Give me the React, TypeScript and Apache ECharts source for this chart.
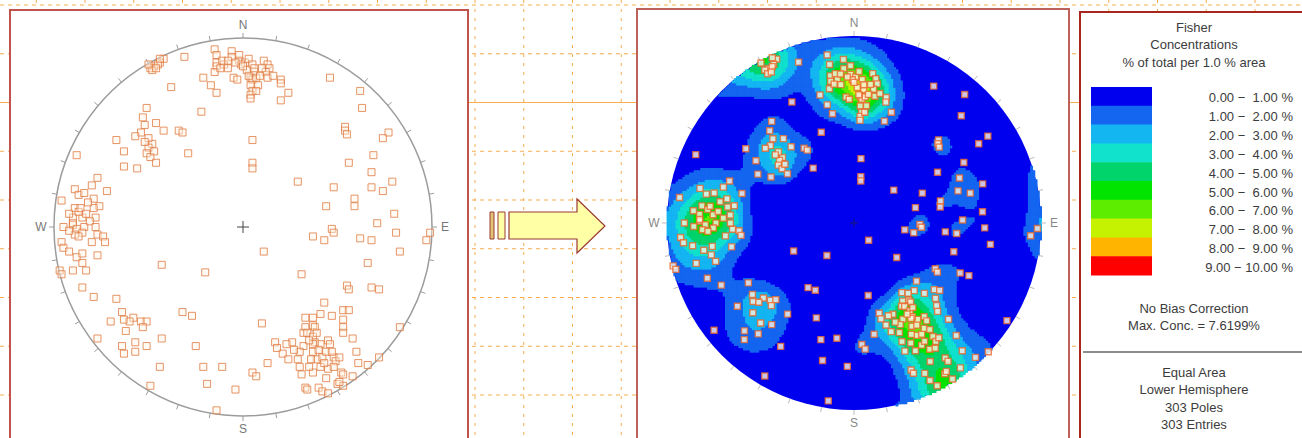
import React, { useEffect, useRef } from "react";
import * as echarts from "echarts";

// Pole positions read from the left (equal-area) net: [east, north], primitive radius = 1
const POLES_NNW: number[][] = [[-0.42,0.89],[-0.44,0.87],[-0.47,0.85],[-0.49,0.84],[-0.48,0.83],[-0.50,0.86],[-0.31,0.90],[-0.38,0.74],[-0.45,0.86],[-0.46,0.84],[-0.44,0.89]];
const POLES_N: number[][] = [[-0.15,0.94],[-0.14,0.91],[-0.14,0.87],[-0.14,0.85],[-0.15,0.82],[-0.10,0.86],[-0.08,0.84],[-0.06,0.93],[-0.06,0.90],[-0.02,0.91],[-0.02,0.88],[0.01,0.87],[-0.01,0.86],[0.03,0.89],[0.05,0.86],[0.06,0.82],[0.04,0.79],[0.05,0.78],[0.04,0.75],[0.05,0.72],[0.04,0.70],[0.04,0.68],[0.07,0.79],[0.08,0.75],[0.11,0.88],[0.13,0.86],[0.14,0.84],[0.12,0.82],[0.13,0.79],[0.20,0.78],[0.20,0.76],[0.20,0.67],[0.24,0.71],[-0.21,0.79],[-0.17,0.75],[-0.14,0.71],[-0.05,0.79],[-0.03,0.78],[0.02,0.83],[-0.04,0.87],[-0.11,0.88],[0.09,0.80],[0.00,0.85],[0.06,0.84],[-0.12,0.84],[0.10,0.84],[0.03,0.80],[-0.08,0.88],[0.16,0.80],[0.07,0.72]];
const POLES_CENTRAL: number[][] = [[-0.22,0.61],[-0.34,0.51],[-0.32,0.50],[0.05,0.46],[0.05,0.34],[0.05,0.31],[-0.29,0.39],[0.29,0.24]];
const POLES_NW: number[][] = [[-0.51,0.63],[-0.53,0.58],[-0.52,0.54],[-0.46,0.55],[-0.42,0.51],[-0.54,0.50],[-0.57,0.48],[-0.67,0.46],[-0.48,0.44],[-0.50,0.42],[-0.51,0.39],[-0.49,0.37],[-0.46,0.34],[-0.63,0.40],[-0.88,0.38],[-0.63,0.32],[-0.56,0.31],[-0.50,0.47],[-0.47,0.40],[-0.52,0.45]];
const POLES_W: number[][] = [[-0.77,0.26],[-0.80,0.22],[-0.72,0.19],[-0.89,0.20],[-0.87,0.17],[-0.96,0.14],[-0.79,0.15],[-0.76,0.11],[-0.89,0.10],[-0.79,0.10],[-0.85,0.05],[-0.90,0.05],[-0.78,0.05],[-0.95,0.00],[-0.90,0.01],[-0.84,0.00],[-0.90,0.02],[-0.88,-0.01],[-0.85,-0.03],[-0.89,-0.04],[-0.81,0.03],[-0.77,-0.04],[-0.74,-0.05],[-0.73,-0.08],[-0.96,-0.08],[-0.95,-0.11],[-0.92,-0.13],[-0.88,-0.16],[-0.85,-0.14],[-0.77,-0.15],[-0.97,-0.23],[-0.96,-0.25],[-0.90,-0.23],[-0.83,-0.23],[-0.85,-0.19],[-0.87,0.08],[-0.82,0.13],[-0.86,0.10],[-0.83,0.07],[-0.92,0.07],[-0.87,-0.05],[-0.80,-0.08],[-0.92,-0.02],[-0.84,0.18],[-0.78,0.00]];
const POLES_SW: number[][] = [[-0.85,-0.32],[-0.79,-0.37],[-0.67,-0.38],[-0.70,-0.50],[-0.64,-0.45],[-0.63,-0.49],[-0.58,-0.48],[-0.54,-0.50],[-0.51,-0.50],[-0.53,-0.53],[-0.77,-0.59],[-0.64,-0.63],[-0.63,-0.67],[-0.57,-0.61],[-0.57,-0.66],[-0.51,-0.63],[-0.43,-0.59],[-0.44,-0.74],[-0.49,-0.84],[-0.43,-0.20],[-0.20,-0.24],[-0.32,-0.45],[-0.27,-0.47],[-0.25,-0.63],[-0.21,-0.74],[-0.11,-0.74],[-0.19,-0.83],[-0.04,-0.86],[0.05,-0.77],[0.07,-0.79],[-0.14,-0.97],[0.11,-0.13],[0.10,-0.51],[0.13,-0.72],[-0.60,-0.50],[-0.62,-0.55]];
const POLES_E: number[][] = [[0.31,-0.25],[0.37,-0.05],[0.43,-0.07],[0.47,-0.01],[0.48,-0.03],[0.62,-0.06],[0.68,-0.07],[0.71,0.02],[0.81,-0.03],[0.83,-0.13],[0.66,-0.19],[0.97,-0.07],[0.99,-0.03],[0.55,-0.31],[0.56,-0.33],[0.68,-0.32],[0.72,-0.33],[0.43,-0.40],[0.41,-0.46],[0.47,-0.47],[0.53,-0.44],[0.56,-0.44],[0.53,-0.49],[0.53,-0.53],[0.53,-0.56],[0.58,-0.59],[0.60,-0.66],[0.61,-0.72],[0.66,-0.73],[0.72,-0.69],[0.83,-0.53]];
const POLES_SE: number[][] = [[0.33,-0.48],[0.37,-0.48],[0.33,-0.53],[0.37,-0.52],[0.38,-0.53],[0.32,-0.56],[0.34,-0.56],[0.37,-0.58],[0.45,-0.60],[0.46,-0.62],[0.41,-0.62],[0.38,-0.61],[0.37,-0.62],[0.32,-0.63],[0.26,-0.61],[0.23,-0.62],[0.17,-0.61],[0.18,-0.64],[0.21,-0.67],[0.24,-0.70],[0.29,-0.70],[0.30,-0.74],[0.31,-0.78],[0.37,-0.66],[0.39,-0.70],[0.42,-0.69],[0.44,-0.66],[0.48,-0.69],[0.49,-0.71],[0.45,-0.75],[0.41,-0.74],[0.37,-0.77],[0.48,-0.74],[0.51,-0.69],[0.52,-0.77],[0.53,-0.78],[0.50,-0.83],[0.53,-0.84],[0.58,-0.79],[0.33,-0.85],[0.34,-0.86],[0.40,-0.85],[0.42,-0.87],[0.45,-0.88],[0.51,-0.82],[0.35,-0.60],[0.40,-0.65],[0.43,-0.72],[0.36,-0.70],[0.44,-0.80],[0.30,-0.66],[0.47,-0.66],[0.39,-0.56],[0.27,-0.65],[0.35,-0.74]];
const POLES_NE: number[][] = [[0.46,0.79],[0.62,0.72],[0.63,0.63],[0.54,0.53],[0.54,0.51],[0.55,0.49],[0.77,0.50],[0.74,0.47],[0.69,0.38],[0.56,0.34],[0.68,0.29],[0.79,0.24],[0.68,0.21],[0.74,0.19],[0.48,0.21],[0.44,0.11],[0.59,0.15],[0.59,0.11],[0.80,0.07]];

const BAND_LABELS = ["0.00 \u2212  1.00 %","1.00 \u2212  2.00 %","2.00 \u2212  3.00 %","3.00 \u2212  4.00 %","4.00 \u2212  5.00 %","5.00 \u2212  6.00 %","6.00 \u2212  7.00 %","7.00 \u2212  8.00 %","8.00 \u2212  9.00 %","9.00 \u2212 10.00 %"];
const BAND_COLORS = ["#0000ee","#1466f0","#14b6f2","#10e2cc","#00d46a","#00e400","#5ced00","#c4f200","#ffb400","#ff0000"];
const TITLE_LINES = ["Fisher", "Concentrations", "% of total per 1.0 % area"];
const MAX_CONC = 7.6199;
const NOTE_LINES = ["No Bias Correction", `Max. Conc. = ${MAX_CONC}%`];
const INFO_LINES = ["Equal Area", "Lower Hemisphere", "303 Poles", "303 Entries"];
const DIRECTIONS = [{ label: "N", az: 0 }, { label: "E", az: 90 }, { label: "S", az: 180 }, { label: "W", az: 270 }];

const KAPPA = 90;
const CELL = 0.012;
const FONT = 'Arial, "Liberation Sans", sans-serif';

const POLES: number[][] = [...POLES_NNW, ...POLES_N, ...POLES_CENTRAL, ...POLES_NW, ...POLES_W, ...POLES_SW, ...POLES_E, ...POLES_SE, ...POLES_NE];

function equalAreaToVec(p: number[]): number[] {
  const r = Math.hypot(p[0], p[1]);
  const th = 2 * Math.asin(Math.min(1, r / Math.SQRT2));
  const s = r > 0 ? Math.sin(th) / r : 0;
  return [p[0] * s, p[1] * s, Math.cos(th)];
}
function vecToEqualAngle(v: number[]): number[] {
  const th = Math.acos(Math.min(1, Math.abs(v[2])));
  const h = Math.hypot(v[0], v[1]);
  const r = Math.tan(th / 2);
  return h > 0 ? [(v[0] / h) * r, (v[1] / h) * r] : [0, 0];
}
const POLE_VECS = POLES.map(equalAreaToVec);
const RIGHT_POINTS = POLE_VECS.map(vecToEqualAngle);

function concentration(d: number[]): number {
  let s = 0;
  for (const p of POLE_VECS) {
    const c = Math.abs(d[0] * p[0] + d[1] * p[1] + d[2] * p[2]);
    s += Math.exp(KAPPA * (c - 1));
  }
  return (KAPPA / POLES.length) * s;
}
function buildCells(): number[][] {
  const raw: number[][] = [];
  const n = Math.ceil(1 / CELL);
  let max = 0;
  for (let i = -n; i <= n; i++) {
    for (let j = -n; j <= n; j++) {
      const u = i * CELL, v = j * CELL;
      const r = Math.hypot(u, v);
      if (r > 1) continue;
      const th = 2 * Math.atan(r);
      const s = r > 0 ? Math.sin(th) / r : 0;
      const val = concentration([u * s, v * s, Math.cos(th)]);
      if (val > max) max = val;
      raw.push([u, v, val]);
    }
  }
  // calibrate to the reported maximum concentration
  const k = MAX_CONC / max;
  const cells: number[][] = [];
  for (const c of raw) {
    const band = Math.min(9, Math.floor(c[2] * k));
    if (band >= 1) cells.push([c[0], c[1], band]);
  }
  return cells;
}

function netSeries(idx: number, o: any) {
  return {
    type: "custom", xAxisIndex: idx, yAxisIndex: idx, z: o.z, silent: true, data: [[0, 0]],
    renderItem: (_p: any, api: any) => {
      const c = api.coord([0, 0]);
      const r = api.size([1, 1])[0];
      const ch: any[] = [];
      if (o.disc) {
        ch.push({ type: "circle", shape: { cx: c[0], cy: c[1], r }, style: { fill: o.disc } });
        return { type: "group", children: ch };
      }
      if (o.outline) ch.push({ type: "circle", shape: { cx: c[0], cy: c[1], r }, style: { fill: "none", stroke: o.outline, lineWidth: 1.5 } });
      for (let a = 0; a < 360; a += 10) {
        const t = (a * Math.PI) / 180;
        const sx = Math.sin(t), sy = -Math.cos(t);
        ch.push({ type: "line", shape: { x1: c[0] + sx * r, y1: c[1] + sy * r, x2: c[0] + sx * (r + 5), y2: c[1] + sy * (r + 5) }, style: { stroke: o.tick, lineWidth: 1 } });
      }
      for (const d of DIRECTIONS) {
        const t = (d.az * Math.PI) / 180;
        const off = r + 13;
        ch.push({ type: "text", style: { x: c[0] + Math.sin(t) * off, y: c[1] - Math.cos(t) * off, text: d.label, fill: o.label, font: `12px ${FONT}`, align: "center", verticalAlign: "middle", textAlign: "center", textVerticalAlign: "middle" } });
      }
      const k = o.cross;
      ch.push({ type: "line", shape: { x1: c[0] - k, y1: c[1], x2: c[0] + k, y2: c[1] }, style: { stroke: o.crossColor, lineWidth: 1 } });
      ch.push({ type: "line", shape: { x1: c[0], y1: c[1] - k, x2: c[0], y2: c[1] + k }, style: { stroke: o.crossColor, lineWidth: 1 } });
      return { type: "group", children: ch };
    },
  };
}

function buildGraphics(): any[] {
  const g: any[] = [];
  for (let k = -9; k <= 17; k++) {
    const x = 475 + 48.75 * k;
    g.push({ type: "line", silent: true, shape: { x1: x, y1: 0, x2: x, y2: 438 }, style: { stroke: "#f8ad4e", lineWidth: 1, lineDash: [3, 6] } });
  }
  for (let k = 0; k <= 8; k++) {
    const y = 5 + 48.75 * k;
    g.push({ type: "line", silent: true, shape: { x1: 0, y1: y, x2: 1302, y2: y }, style: { stroke: "#f8ad4e", lineWidth: 1, lineDash: k === 2 ? null : [4, 4] } });
  }
  g.push({ type: "rect", silent: true, shape: { x: 10, y: 10, width: 458, height: 440 }, style: { fill: "#ffffff", stroke: "#c0544c", lineWidth: 2 } });
  g.push({ type: "rect", silent: true, shape: { x: 637, y: 9, width: 432, height: 440 }, style: { fill: "#ffffff", stroke: "#bd625a", lineWidth: 2 } });
  g.push({ type: "rect", silent: true, shape: { x: 1080, y: 12, width: 240, height: 440 }, style: { fill: "#ffffff", stroke: "#a8261e", lineWidth: 2 } });
  // arrow
  g.push({ type: "rect", silent: true, shape: { x: 490, y: 212, width: 4, height: 27 }, style: { fill: "#e2c275", stroke: "#9b3a32", lineWidth: 1 } });
  g.push({ type: "rect", silent: true, shape: { x: 498, y: 212, width: 7, height: 27 }, style: { fill: "#ffffa6", stroke: "#9b3a32", lineWidth: 1 } });
  g.push({ type: "polygon", silent: true, shape: { points: [[509, 212], [577, 212], [577, 199], [605, 226], [577, 253], [577, 239], [509, 239]] }, style: { fill: "#ffffa6", stroke: "#9b3a32", lineWidth: 1.2 } });
  // legend
  const cx = 1194;
  const txt = (text: string, x: number, y: number, align = "center") => ({ type: "text", silent: true, style: { x, y, text, fill: "#3c3c3c", font: `13px ${FONT}`, align, verticalAlign: "middle", textAlign: align, textVerticalAlign: "middle" } });
  TITLE_LINES.forEach((t, i) => g.push(txt(t, cx, 27 + i * 17.5)));
  const bh = 18.8;
  BAND_COLORS.forEach((col, i) => {
    g.push({ type: "rect", silent: true, shape: { x: 1091, y: 87 + i * bh, width: 61, height: bh + 0.5 }, style: { fill: col } });
    g.push(txt(BAND_LABELS[i], 1293, 97.5 + i * 18.9, "right"));
  });
  NOTE_LINES.forEach((t, i) => g.push(txt(t, cx, 308 + i * 17)));
  g.push({ type: "line", silent: true, shape: { x1: 1083, y1: 352, x2: 1302, y2: 352 }, style: { stroke: "#8c8c8c", lineWidth: 2 } });
  INFO_LINES.forEach((t, i) => g.push(txt(t, cx, 372 + i * 17.5)));
  return g;
}

export default function App() {
  const ref = useRef<HTMLDivElement>(null);
  useEffect(() => {
    if (!ref.current) return;
    const chart = echarts.init(ref.current, null, { renderer: "svg" });
    const cells = buildCells();
    const axis = (gi: number) => ({ type: "value", gridIndex: gi, min: -1, max: 1, show: false });
    chart.setOption({
      animation: false,
      backgroundColor: "#ffffff",
      graphic: { elements: buildGraphics() },
      grid: [
        { left: 54, top: 38, width: 378, height: 378 },
        { left: 667, top: 36, width: 374, height: 374 },
      ],
      xAxis: [axis(0), axis(1)],
      yAxis: [axis(0), axis(1)],
      series: [
        netSeries(0, { z: 2, outline: "#9c9c9c", tick: "#9c9c9c", label: "#777777", cross: 6, crossColor: "#444444" }),
        {
          type: "scatter", xAxisIndex: 0, yAxisIndex: 0, z: 3, silent: true, data: POLES,
          symbol: "rect", symbolSize: 7,
          itemStyle: { color: "rgba(255,244,228,0.5)", borderColor: "#e07a42", borderWidth: 1 },
        },
        netSeries(1, { z: 1, disc: "#0000ee" }),
        {
          type: "custom", xAxisIndex: 1, yAxisIndex: 1, z: 1, silent: true, data: cells,
          renderItem: (_p: any, api: any) => {
            const u = api.value(0), v = api.value(1), b = api.value(2);
            const p = api.coord([u - CELL / 2, v + CELL / 2]);
            const s = api.size([CELL, CELL]);
            return { type: "rect", shape: { x: p[0], y: p[1], width: s[0] + 0.6, height: s[1] + 0.6 }, style: { fill: BAND_COLORS[b] } };
          },
        },
        netSeries(1, { z: 2, tick: "#bbbbbb", label: "#888888", cross: 4, crossColor: "#1a1a70" }),
        {
          type: "scatter", xAxisIndex: 1, yAxisIndex: 1, z: 3, silent: true, data: RIGHT_POINTS,
          symbol: "rect", symbolSize: 6,
          itemStyle: { color: "#fff6e6", borderColor: "#e8682c", borderWidth: 1.4 },
        },
      ],
    });
    return () => chart.dispose();
  }, []);
  return <div ref={ref} style={{ position: "fixed", left: 0, top: 0, width: 1302, height: 438 }} />;
}
